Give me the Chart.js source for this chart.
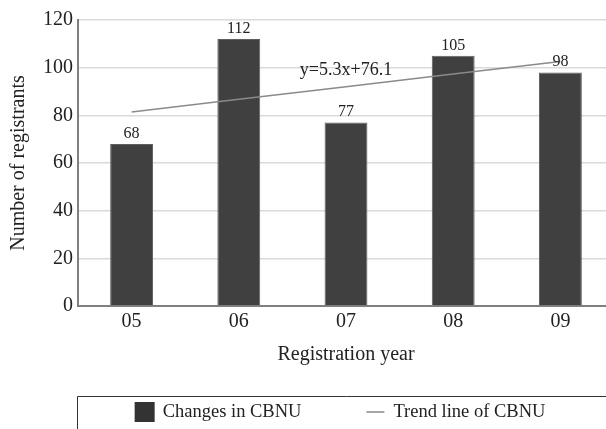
<!DOCTYPE html>
<html>
<head>
<meta charset="utf-8">
<script src="https://cdn.jsdelivr.net/npm/chart.js@4/dist/chart.umd.min.js"></script>
<style>
html,body{margin:0;padding:0;background:#fff;overflow:hidden;}
#wrap{width:614px;height:429px;position:relative;}
</style>
</head>
<body>
<div id="wrap"><canvas id="c"></canvas></div>
<script>
const categories = ['05', '06', '07', '08', '09'];
const registrants = [68, 112, 77, 105, 98];
const trendValues = [81.4, 86.7, 92.0, 97.3, 102.6];
const yTicks = [0, 20, 40, 60, 80, 100, 120];
const trendEquation = 'y=5.3x+76.1';
const seriesNames = ['Changes in CBNU', 'Trend line of CBNU'];
const axisTitles = {x: 'Registration year', y: 'Number of registrants'};

const SERIF = "'Liberation Serif', 'DejaVu Serif', serif";
const BAR_COLOR = '#404040';
const LINE_COLOR = '#8a8a8a';

const extrasPlugin = {
  id: 'extras',
  afterDatasetsDraw(chart) {
    const ctx = chart.ctx;
    const meta = chart.getDatasetMeta(0);
    ctx.save();
    ctx.fillStyle = '#222';
    ctx.font = "16px " + SERIF;
    ctx.textAlign = 'center';
    ctx.textBaseline = 'alphabetic';
    meta.data.forEach((bar, i) => {
      ctx.fillText(String(registrants[i]), bar.x, bar.y - 6);
    });
    const xs = chart.scales.x, ys = chart.scales.y;
    ctx.font = "18px " + SERIF;
    ctx.textBaseline = 'middle';
    ctx.fillText(trendEquation, xs.getPixelForValue(2), ys.getPixelForValue(98.8));
    ctx.restore();
  },
  afterDraw(chart) {
    // custom legend box at bottom
    const ctx = chart.ctx;
    const area = chart.chartArea;
    const top = chart.height - 33;
    const cy = top + 16;
    ctx.save();
    ctx.strokeStyle = '#333';
    ctx.lineWidth = 1;
    const x0 = Math.round(area.left) - 0.5;
    ctx.beginPath();
    ctx.moveTo(x0, chart.height + 2);
    ctx.lineTo(x0, top + 0.5);
    ctx.lineTo(chart.width + 2, top + 0.5);
    ctx.stroke();

    ctx.font = "18.5px " + SERIF;
    const ds = chart.data.datasets;
    const w1 = ctx.measureText(ds[0].label).width;
    const w2 = ctx.measureText(ds[1].label).width;
    const total = 20 + 8 + w1 + 65 + 18 + 9 + w2;
    let x = (area.left + area.right) / 2 - 6 - total / 2;
    ctx.fillStyle = '#333';
    ctx.fillRect(x, cy - 10, 20, 20);
    x += 28;
    ctx.fillStyle = '#222';
    ctx.textAlign = 'left';
    ctx.textBaseline = 'middle';
    ctx.fillText(ds[0].label, x, cy);
    x += w1 + 65;
    ctx.strokeStyle = LINE_COLOR;
    ctx.lineWidth = 1.5;
    ctx.beginPath();
    ctx.moveTo(x, cy);
    ctx.lineTo(x + 18, cy);
    ctx.stroke();
    x += 27;
    ctx.fillText(ds[1].label, x, cy);
    ctx.restore();
  }
};

new Chart(document.getElementById('c'), {
  data: {
    labels: categories,
    datasets: [
      {
        type: 'bar',
        label: seriesNames[0],
        data: registrants,
        backgroundColor: BAR_COLOR,
        borderColor: '#5e5e5e',
        borderWidth: 1,
        barPercentage: 0.4,
        categoryPercentage: 1.0,
        order: 2
      },
      {
        type: 'line',
        label: seriesNames[1],
        data: trendValues,
        borderColor: LINE_COLOR,
        backgroundColor: LINE_COLOR,
        borderWidth: 1.5,
        pointRadius: 0,
        fill: false,
        order: 1
      }
    ]
  },
  options: {
    responsive: true,
    maintainAspectRatio: false,
    animation: false,
    layout: {padding: {left: 7, right: 0, top: 20, bottom: 62}},
    plugins: {
      tooltip: {enabled: false},
      legend: {display: false}
    },
    scales: {
      x: {
        grid: {display: false, drawTicks: false},
        border: {color: '#808080', width: 2},
        ticks: {color: '#222', font: {family: SERIF, size: 20}, padding: 4},
        title: {display: true, text: axisTitles.x, color: '#222', font: {family: SERIF, size: 20}, padding: {top: 5, bottom: 0}}
      },
      y: {
        min: 0,
        max: 120,
        afterBuildTicks(scale) { scale.ticks = yTicks.map(v => ({value: v})); },
        grid: {color: '#dadada', lineWidth: 1.5, drawTicks: false},
        border: {color: '#808080', width: 2},
        ticks: {color: '#222', font: {family: SERIF, size: 20}, padding: 5},
        title: {display: true, text: axisTitles.y, color: '#222', font: {family: SERIF, size: 20}, padding: {top: 0, bottom: 7}}
      }
    }
  },
  plugins: [extrasPlugin]
});
</script>
</body>
</html>
